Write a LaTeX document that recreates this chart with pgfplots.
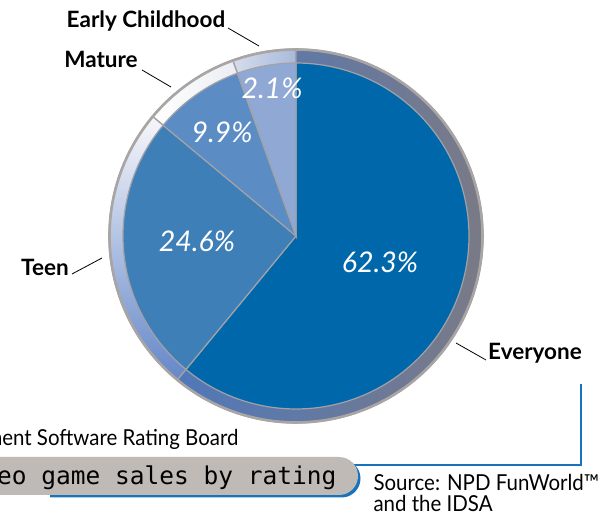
\documentclass[border=0pt]{standalone}
\usepackage{pgfplots}
\pgfplotsset{compat=1.18}
\usepackage{fontspec}
\setmainfont{Lato}
\newfontfamily\monofont{DejaVu Sans Mono}
\newfontfamily\condfont[FakeStretch=0.93]{Lato}
\definecolor{cEvery}{HTML}{0068AA}
\definecolor{cTeen}{HTML}{3F7FB8}
\definecolor{cMature}{HTML}{5B8DC4}
\definecolor{cEarly}{HTML}{8FA9D4}
\definecolor{rimgray}{HTML}{A9A5A5}
\definecolor{divgray}{HTML}{A2A2A6}
\definecolor{boxgray}{HTML}{BFBAB6}
\definecolor{lineblue}{HTML}{1A72BB}
\begin{document}
\begin{tikzpicture}
\begin{axis}[at={(0,0)}, anchor=south west,
  width=600pt, height=514pt, scale only axis,
  xmin=-296, xmax=304, ymin=-278, ymax=236,
  hide axis, clip=true]
% ---- outer rim segments (angles in degrees)
\addplot[data cs=polar, domain=90:109.8, samples=30, draw=divgray, line width=1.3pt,
  left color={rgb,255:red,214;green,220;blue,236}, right color={rgb,255:red,168;green,186;blue,219}] {187} -- (axis cs:0,0) -- cycle;
\addplot[data cs=polar, domain=109.8:140.2, samples=30, draw=divgray, line width=1.3pt,
  left color=white, right color={rgb,255:red,222;green,225;blue,235}] {187} -- (axis cs:0,0) -- cycle;
\addplot[data cs=polar, domain=140.2:230.5, samples=60, draw=divgray, line width=1.3pt,
  top color={rgb,255:red,247;green,247;blue,250}, bottom color={rgb,255:red,100;green,135;blue,200}] {187} -- (axis cs:0,0) -- cycle;
\addplot[data cs=polar, domain=230.5:450, samples=120, draw=divgray, line width=1.3pt,
  left color={rgb,255:red,80;green,120;blue,185}, middle color={rgb,255:red,115;green,138;blue,190}, right color={rgb,255:red,122;green,122;blue,134}] {187} -- (axis cs:0,0) -- cycle;
\addplot[data cs=polar, domain=0:360, samples=180, draw=rimgray, line width=2.6pt] {186.5};
% ---- pie slices
\addplot[data cs=polar, domain=230.5:450, samples=120, fill=cEvery, draw=divgray, line width=1.2pt] {173} -- (axis cs:0,0) -- cycle;
\addplot[data cs=polar, domain=140.2:230.5, samples=60, fill=cTeen, draw=divgray, line width=1.2pt] {173} -- (axis cs:0,0) -- cycle;
\addplot[data cs=polar, domain=109.8:140.2, samples=30, fill=cMature, draw=divgray, line width=1.2pt] {173} -- (axis cs:0,0) -- cycle;
\addplot[data cs=polar, domain=90:109.8, samples=30, fill=cEarly, draw=divgray, line width=1.2pt] {173} -- (axis cs:0,0) -- cycle;
% ---- percentages
\node[text=white, font=\fontsize{28.5}{28.5}\selectfont\itshape] at (axis cs:-24,148) {2.1\%};
\node[text=white, font=\fontsize{28.5}{28.5}\selectfont\itshape] at (axis cs:-74,104) {9.9\%};
\node[text=white, font=\fontsize{28.5}{28.5}\selectfont\itshape] at (axis cs:-99,-5) {24.6\%};
\node[text=white, font=\fontsize{28.5}{28.5}\selectfont\itshape] at (axis cs:84,-26) {62.3\%};
% ---- labels and leaders
\node[anchor=base, font=\fontsize{22.5}{22.5}\selectfont\bfseries] at (axis cs:-150,208) {Early Childhood};
\node[anchor=base, font=\fontsize{22.5}{22.5}\selectfont\bfseries] at (axis cs:-195,168) {Mature};
\node[anchor=base, font=\fontsize{22.5}{22.5}\selectfont\bfseries] at (axis cs:-251,-40) {Teen};
\node[anchor=base, font=\fontsize{22.5}{22.5}\selectfont\bfseries] at (axis cs:239,-124) {Everyone};
\addplot[black, line width=0.8pt] coordinates {(-68,208) (-37,190)};
\addplot[black, line width=0.8pt] coordinates {(-154,166) (-125,149)};
\addplot[black, line width=0.8pt] coordinates {(-224,-38) (-194,-22)};
\addplot[black, line width=0.8pt] coordinates {(160,-107) (190,-124)};
% ---- connector line
\addplot[lineblue, line width=1.3pt] coordinates {(285,-148) (285,-229) (55,-229)};
% ---- title box
\begin{scope}
\clip (axis cs:-246,-300) rectangle (axis cs:120,-200);
\fill[lineblue, rounded corners=19pt] (axis cs:-340,-223.5) rectangle (axis cs:64.5,-261.5);
\end{scope}
\fill[boxgray, rounded corners=19pt] (axis cs:-340,-221) rectangle (axis cs:62,-259);
\node[anchor=base east, font=\monofont\fontsize{24.5}{24.5}\selectfont] at (axis cs:44,-249) {Video game sales by rating};
\node[anchor=base east, font=\condfont\fontsize{22}{22}\selectfont] at (axis cs:-54,-210) {Source: Entertainment Software Rating Board};
\node[anchor=base west, font=\condfont\fontsize{22}{22}\selectfont, align=left] at (axis cs:74,-255) {Source: NPD FunWorld™};
\node[anchor=base west, font=\condfont\fontsize{22}{22}\selectfont, align=left] at (axis cs:74,-276) {and the IDSA};
\end{axis}
\pgfresetboundingbox
\path[use as bounding box] (0,0) rectangle (600pt,514pt);
\end{tikzpicture}
\end{document}
